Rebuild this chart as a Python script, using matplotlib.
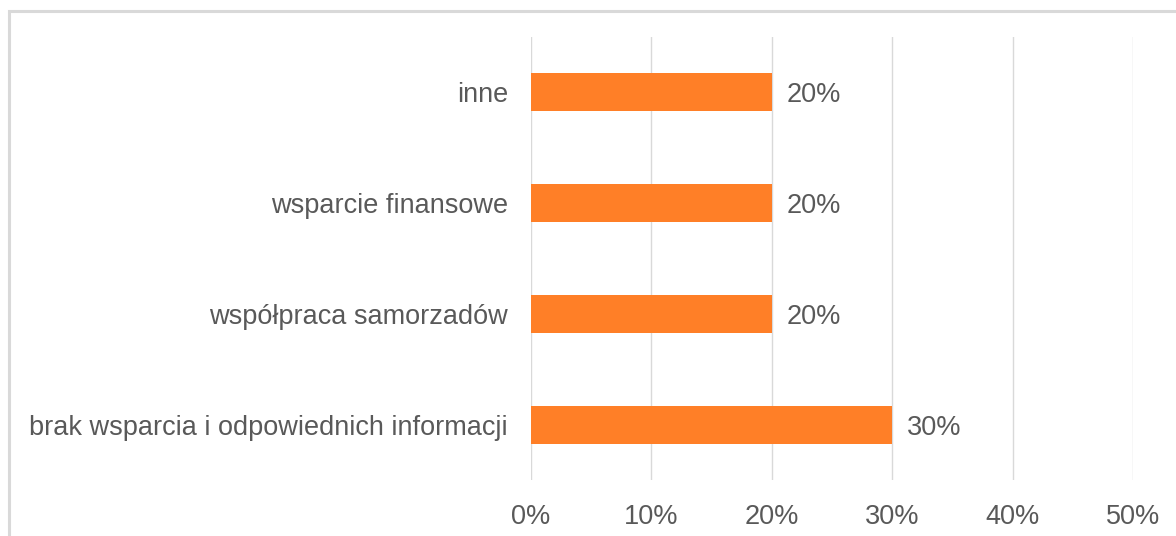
import matplotlib.pyplot as plt
from matplotlib.patches import Rectangle

categories = ["brak wsparcia i odpowiednich informacji", "współpraca samorzadów",
              "wsparcie finansowe", "inne"]
values = [0.30, 0.20, 0.20, 0.20]
ticks = [0, 0.1, 0.2, 0.3, 0.4, 0.5]
tick_labels = ["0%", "10%", "20%", "30%", "40%", "50%"]

plt.rcParams['font.family'] = ['Liberation Sans', 'DejaVu Sans']
text_color = '#595959'

fig = plt.figure(figsize=(11.76, 5.36), dpi=100)
# light border of the chart area (cropped on the right and bottom)
fig.patches.append(Rectangle((9 / 1176, -0.1), 1.2, 1 - 11 / 536 + 0.1,
                             transform=fig.transFigure, fill=False,
                             edgecolor='#d9d9d9', linewidth=2.2))

ax = fig.add_axes([531 / 1176, 56 / 536, (1133 - 531) / 1176, (480 - 37) / 536])
ax.barh(range(len(categories)), values, height=0.345, color='#ff7f27', zorder=3)

for i, v in enumerate(values):
    ax.text(v + 0.012, i, f"{v * 100:.0f}%", va='center_baseline', ha='left',
            fontsize=19.5, color=text_color)

ax.set_xlim(0, 0.5)
ax.set_ylim(-0.5, len(categories) - 0.5)
ax.set_xticks(ticks)
ax.set_xticklabels(tick_labels, fontsize=19.5, color=text_color)
ax.set_yticks(range(len(categories)))
ax.set_yticklabels(categories, fontsize=19.5, color=text_color)
ax.tick_params(length=0)
ax.tick_params(axis='y', pad=16.5)
ax.tick_params(axis='x', pad=17.5)
ax.grid(axis='x', color='#d9d9d9', linewidth=1)
ax.set_axisbelow(True)
for s in ax.spines.values():
    s.set_visible(False)

fig.savefig("out.png", dpi=100)
